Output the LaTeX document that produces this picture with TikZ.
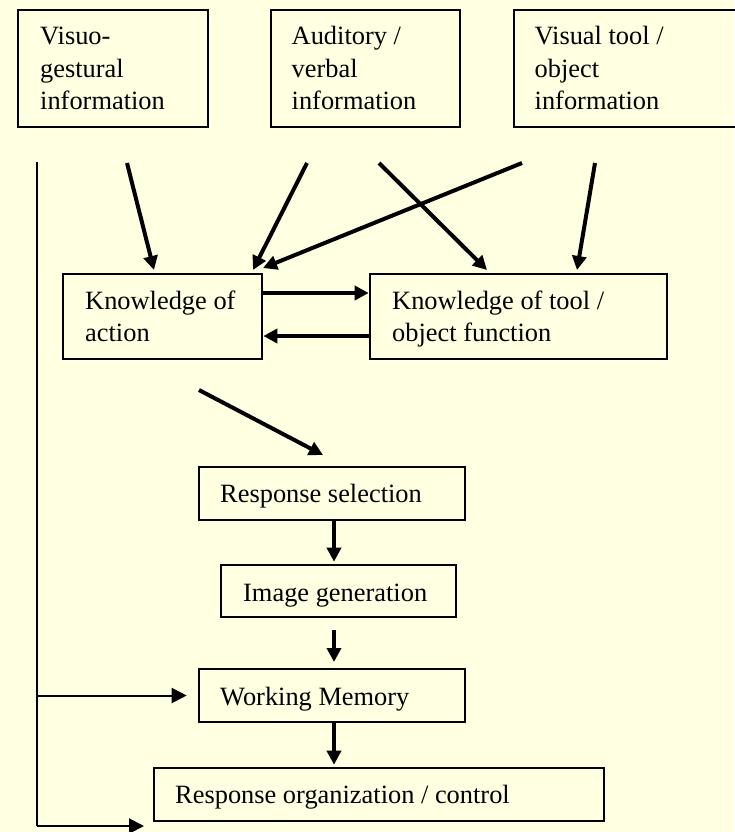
\documentclass[tikz,border=0pt]{standalone}
\usepackage{fontspec}
\setmainfont{Liberation Serif}
\usetikzlibrary{arrows.meta,fit}
\definecolor{bg}{RGB}{255,255,226}
\begin{document}
\begin{tikzpicture}[x=1pt,y=-1pt,
  box/.style={draw=black,line width=2.6pt,inner sep=0pt,rectangle},
  txt/.style={anchor=base west,inner sep=0pt,font=\fontsize{26.4}{32}\selectfont},
  thickarrow/.style={line width=4pt,-{Triangle[length=14pt,width=14pt]}},
  thinarrow/.style={line width=2pt,-{Triangle[length=15pt,width=15pt]}}]
\fill[bg] (0,0) rectangle (734,832);
\useasboundingbox (0,0) rectangle (734,832);

% top boxes
\node[box,fit={(18,10) (208,127)}] (vg) {};
\node[box,fit={(271,10) (460,127)}] (av) {};
\node[box,fit={(514,10) (745,127)}] (vt) {};
\node[txt] (vg1) at (40,45) {Visuo-};
\node[txt] (vg2) at (40,77.5) {gestural};
\node[txt] (vg3) at (40,110) {information};
\node[txt] (av1) at (291.5,45) {Auditory /};
\node[txt] (av2) at (291.5,77.5) {verbal};
\node[txt] (av3) at (291.5,110) {information};
\node[txt] (vt1) at (534.5,45) {Visual tool /};
\node[txt] (vt2) at (534.5,77.5) {object};
\node[txt] (vt3) at (534.5,110) {information};

% knowledge boxes
\node[box,fit={(63,274) (262,359)}] (ka) {};
\node[box,fit={(370,274) (667,359)}] (kt) {};
\node[txt] (ka1) at (85,309) {Knowledge of};
\node[txt] (ka2) at (85,341) {action};
\node[txt] (kt1) at (392,309) {Knowledge of tool /};
\node[txt] (kt2) at (392,341) {object function};

% lower chain
\node[box,fit={(199,467) (465,520)}] (rs) {};
\node[box,fit={(221,565) (456,617)}] (ig) {};
\node[box,fit={(199,669) (465,722)}] (wm) {};
\node[box,fit={(154,768) (604,821)}] (roc) {};
\node[txt] (rs1) at (220,502) {Response selection};
\node[txt] (ig1) at (243,601) {Image generation};
\node[txt] (wm1) at (220,705) {Working Memory};
\node[txt] (roc1) at (175,803) {Response organization / control};

% free arrow ends
\coordinate (a1s) at (127,163); \coordinate (a1e) at (154,270);
\coordinate (a2s) at (307,163); \coordinate (a2e) at (253,270);
\coordinate (a3s) at (522,163); \coordinate (a3e) at (263,268);
\coordinate (a4s) at (379,163); \coordinate (a4e) at (487,270);
\coordinate (a5s) at (595,163); \coordinate (a5e) at (577,270);
\coordinate (ds) at (199,390);  \coordinate (de) at (323,455);
\coordinate (col) at (334,0);
\coordinate (igs) at (334,630); \coordinate (ige) at (334,662);
\coordinate (vtop) at (37,162);
\coordinate (vbot) at (37,826);
\coordinate (rocin) at (144,826);

\draw[thickarrow] (a1s) -- (a1e);
\draw[thickarrow] (a2s) -- (a2e);
\draw[thickarrow] (a3s) -- (a3e);
\draw[thickarrow] (a4s) -- (a4e);
\draw[thickarrow] (a5s) -- (a5e);

\draw[thickarrow] ([yshift=23.5pt]ka.east) -- ([yshift=23.5pt]kt.west);
\draw[thickarrow] ([yshift=-19.5pt]kt.west) -- ([yshift=-19.5pt]ka.east);

\draw[thickarrow] (ds) -- (de);
\draw[thickarrow] (rs.south -| col) -- ([yshift=2pt]ig.north -| col);
\draw[thickarrow] (igs) -- (ige);
\draw[thickarrow] (wm.south -| col) -- ([yshift=2pt]roc.north -| col);

\draw[line width=2pt] (vtop) -- (vbot);
\draw[thinarrow] (wm.west -| vtop) -- ([xshift=-11pt]wm.west);
\draw[thinarrow] (vbot) -- (rocin);
\end{tikzpicture}
\end{document}
